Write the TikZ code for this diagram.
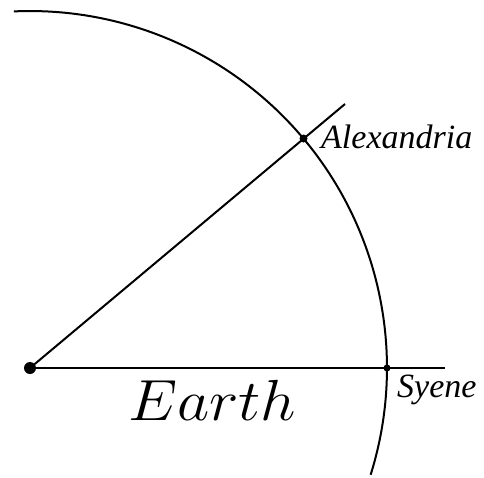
\RequirePackage{fix-cm}
\documentclass[tikz,border=0pt]{standalone}
\usepackage{fontspec}
\newfontfamily\lblfont{Liberation Serif}
\begin{document}
\begin{tikzpicture}[x=1pt,y=-1pt,
  ln/.style={line width=2pt},
  lbl/.style={font=\lblfont\fontsize{34}{40}\selectfont\itshape, inner sep=0pt, anchor=base west}]
\useasboundingbox (0,0) rectangle (484,477);
\coordinate (O) at (30,368);
\coordinate (A) at (303.5,138.5);
\coordinate (Aend) at (345,104);
\coordinate (S) at (387,368);
\coordinate (Send) at (445,368);
\coordinate (arcstart) at (13.8,11.4);
\draw[ln] (arcstart) arc[start angle=-92.6, end angle=17.4, radius=357];
\draw[ln] (O) -- (Aend);
\draw[ln] (O) -- (Send);
\fill (O) circle[radius=6];
\fill (A) circle[radius=4];
\fill (S) circle[radius=3.5];
\node[lbl] (alex) at (321,148) {Alexandria};
\node[lbl] (syene) at (397,397) {Syene};
\node[inner sep=0pt, anchor=base west, font=\fontsize{58}{66}\selectfont] (earth) at (128,420) {\scalebox{1.08}[1]{$Earth$}};
\end{tikzpicture}
\end{document}
